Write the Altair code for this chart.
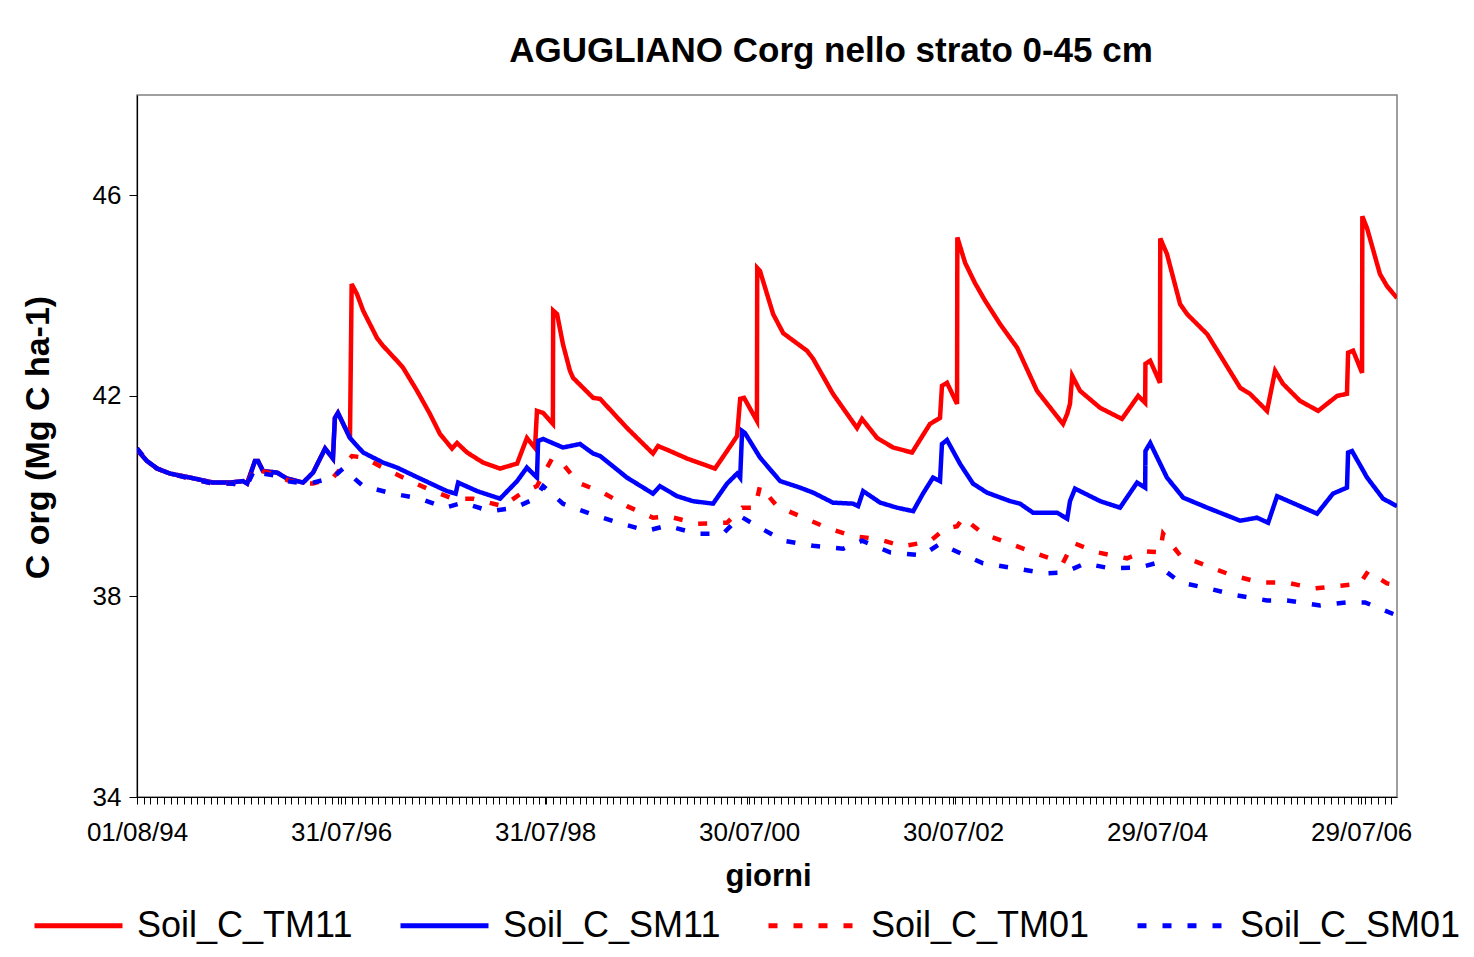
import altair as alt
import pandas as pd

# x values: giorni (days since 01/08/94); y values: C org (Mg C ha-1)
START = "1994-08-01"
END_DAY = 4508

names = ["Soil_C_TM11", "Soil_C_SM11", "Soil_C_TM01", "Soil_C_SM01"]

tm11_days = [0, 4, 36, 72, 118, 190, 272, 333, 379, 394, 422, 433, 451, 501, 537, 594, 630, 673, 701, 708,
             719, 762,
             768, 787, 809, 859, 880, 930, 952, 1002, 1048, 1084, 1127, 1145, 1181, 1238, 1299, 1360, 1395, 1424,
             1431, 1453, 1488, 1489, 1503, 1524, 1549, 1560, 1632, 1657, 1753, 1846, 1864, 1907, 1968, 2068,
             2111, 2147, 2158, 2172, 2218, 2219, 2229, 2276, 2312, 2397, 2419, 2490, 2576, 2594, 2648, 2705,
             2773, 2837, 2873, 2880, 2898, 2934, 2935, 2963, 2998, 3034, 3088, 3149, 3220, 3313, 3328, 3338,
             3346, 3374, 3446, 3524, 3582, 3607, 3608, 3625, 3660, 3661, 3685, 3732, 3757, 3829, 3947, 3982,
             4043, 4072, 4100, 4161, 4226, 4294, 4329, 4333, 4351, 4383, 4384, 4401, 4447, 4472, 4508]
tm11_vals = [40.95, 40.9, 40.7, 40.55, 40.45, 40.37, 40.27, 40.27, 40.3, 40.25, 40.7, 40.7, 40.5, 40.47, 40.35,
             40.27, 40.47, 40.95, 40.75, 41.56, 41.66, 41.16,
             44.23, 44.03, 43.7, 43.15, 43.0, 42.7, 42.56, 42.1, 41.64, 41.24, 40.95, 41.06, 40.87, 40.67, 40.55,
             40.65, 41.16, 40.96, 41.7, 41.66, 41.44, 43.7, 43.63, 43.03, 42.5, 42.36, 41.96, 41.94, 41.36,
             40.85, 41.0, 40.9, 40.75, 40.55, 40.9, 41.2, 41.94, 41.96, 41.5, 44.55, 44.49, 43.63, 43.25, 42.9,
             42.74, 42.04, 41.36, 41.54, 41.16, 40.97, 40.87, 41.44, 41.56, 42.2, 42.26, 41.84, 45.16, 44.65,
             44.25, 43.9, 43.43, 42.96, 42.1, 41.44, 41.64, 41.84, 42.4, 42.1, 41.76, 41.54, 42.0, 41.86, 42.64,
             42.7, 42.26, 45.14, 44.83, 43.83, 43.63, 43.23, 42.16, 42.04, 41.7, 42.5, 42.24, 41.9, 41.7, 42.0,
             42.04, 42.86, 42.9, 42.46, 45.58, 45.34, 44.43, 44.19, 43.95]

sm11_days = [0, 4, 36, 72, 118, 190, 272, 333, 379, 394, 422, 433, 451, 501, 537, 594, 630, 673, 701, 708,
             719, 762, 809, 880, 930, 1013, 1109, 1140, 1149, 1217, 1299, 1360, 1395, 1431, 1435, 1453, 1524,
             1585, 1632, 1657, 1753, 1846, 1871, 1932, 1989, 2061, 2111, 2147, 2158, 2165, 2175, 2229, 2301,
             2372, 2419, 2490, 2562, 2580, 2598, 2659, 2719, 2777, 2812, 2848, 2873, 2880, 2898, 2945, 2991,
             3041, 3124, 3159, 3206, 3292, 3328, 3338, 3356, 3446, 3517, 3578, 3607, 3608, 3625, 3685, 3743,
             3829, 3947, 4007, 4047, 4079, 4161, 4222, 4279, 4329, 4333, 4347, 4401, 4458, 4508]
sm11_vals = [40.95, 40.9, 40.7, 40.55, 40.45, 40.37, 40.27, 40.27, 40.3, 40.25, 40.7, 40.7, 40.5, 40.47, 40.35,
             40.27, 40.47, 40.95, 40.75, 41.56, 41.66, 41.16, 40.87, 40.67, 40.57, 40.35, 40.1, 40.05, 40.27,
             40.1, 39.95, 40.3, 40.57, 40.37, 41.1, 41.14, 40.97, 41.04, 40.85, 40.8, 40.37, 40.05, 40.2, 40.0,
             39.9, 39.85, 40.25, 40.45, 40.37, 41.3, 41.26, 40.77, 40.3, 40.17, 40.07, 39.87, 39.85, 39.8, 40.1,
             39.87, 39.77, 39.7, 40.05, 40.37, 40.3, 41.04, 41.12, 40.64, 40.25, 40.07, 39.9, 39.85, 39.67,
             39.67, 39.55, 39.9, 40.15, 39.9, 39.77, 40.27, 40.17, 40.9, 41.06, 40.37, 39.97, 39.77, 39.51,
             39.57, 39.47, 40.0, 39.8, 39.65, 40.05, 40.17, 40.87, 40.9, 40.37, 39.95, 39.8]

tm01_days = [0, 36, 72, 118, 190, 272, 333, 394, 422, 451, 501, 537, 594, 630, 701, 769, 809, 887, 977, 1059,
             1131, 1202, 1310, 1378, 1431, 1485, 1524, 1578, 1667, 1753, 1846, 1900, 2004, 2111, 2165, 2211,
             2229, 2290, 2372, 2469, 2562, 2648, 2741, 2837, 2891, 2934, 2956, 3027, 3124, 3220, 3313, 3349,
             3435, 3542, 3607, 3660, 3671, 3732, 3822, 3918, 4018, 4108, 4215, 4315, 4376, 4405, 4472, 4508]
tm01_vals = [40.95, 40.7, 40.55, 40.45, 40.35, 40.25, 40.25, 40.22, 40.6, 40.5, 40.42, 40.32, 40.25, 40.25,
             40.37, 40.8, 40.77, 40.55, 40.3, 40.1, 39.95, 39.95, 39.8, 40.07, 40.2, 40.75, 40.64, 40.27, 40.07,
             39.8, 39.57, 39.6, 39.45, 39.47, 39.77, 39.77, 40.2, 39.8, 39.6, 39.37, 39.2, 39.15, 39.0, 39.1,
             39.35, 39.4, 39.57, 39.25, 39.05, 38.85, 38.67, 39.07, 38.88, 38.76, 38.9, 38.88, 39.25, 38.82,
             38.62, 38.42, 38.28, 38.28, 38.16, 38.22, 38.26, 38.5, 38.26, 38.22]

sm01_days = [0, 36, 72, 118, 190, 272, 333, 394, 422, 451, 501, 537, 594, 630, 701, 737, 809, 916, 1013, 1102,
             1167, 1263, 1353, 1424, 1453, 1524, 1621, 1721, 1825, 1896, 2004, 2097, 2158, 2229, 2312, 2419,
             2526, 2594, 2694, 2809, 2873, 2938, 3027, 3142, 3249, 3320, 3392, 3481, 3589, 3643, 3732, 3832,
             3936, 4043, 4115, 4233, 4329, 4394, 4490, 4508]
sm01_vals = [40.95, 40.7, 40.55, 40.45, 40.35, 40.25, 40.25, 40.22, 40.55, 40.45, 40.4, 40.3, 40.25, 40.27,
             40.37, 40.55, 40.2, 40.05, 39.95, 39.77, 39.87, 39.7, 39.77, 39.95, 40.2, 39.85, 39.65, 39.47,
             39.31, 39.41, 39.25, 39.25, 39.6, 39.37, 39.11, 39.01, 38.95, 39.11, 38.88, 38.82, 39.05, 38.88,
             38.66, 38.56, 38.46, 38.48, 38.66, 38.56, 38.58, 38.66, 38.28, 38.16, 38.02, 37.92, 37.92, 37.82,
             37.88, 37.88, 37.66, 37.62]

major_labels = ["01/08/94", "31/07/96", "31/07/98", "30/07/00", "30/07/02", "29/07/04", "29/07/06"]
major_days = [0, 730, 1460, 2190, 2920, 3650, 4380]
minor_step = 24
y_ticks = [34, 38, 42, 46]

BASE_MS = pd.Timestamp(START, tz="UTC").value // 10**6


def to_ms(day):
    return BASE_MS + int(round(day * 86400000))


series = [(names[0], tm11_days, tm11_vals), (names[1], sm11_days, sm11_vals),
          (names[2], tm01_days, tm01_vals), (names[3], sm01_days, sm01_vals)]
rows = []
for k, (name, days, vals) in enumerate(series):
    assert len(days) == len(vals), name
    for i, (d, v) in enumerate(zip(days, vals)):
        rows.append({"serie": name, "k": k, "i": i, "t": to_ms(d), "v": v})
df = pd.DataFrame(rows)

tick_ms = sorted(set([to_ms(d) for d in range(0, END_DAY + 1, minor_step)] + [to_ms(d) for d in major_days]))
label_list = "[" + ",".join("'%s'" % s for s in major_labels) + "]"
label_expr = ("indexof(%s, utcFormat(datum.value, '%%d/%%m/%%y')) >= 0 ? utcFormat(datum.value, '%%d/%%m/%%y') : ''"
              % label_list)

FONT = "Liberation Sans"

x_scale = alt.Scale(type="utc", domain=[to_ms(0), to_ms(END_DAY)], nice=False)
y_scale = alt.Scale(domain=[34, 48], nice=False, zero=False)
color_scale = alt.Scale(domain=names, range=["#FF0000", "#0000FF", "#FF0000", "#0000FF"])
dash_scale = alt.Scale(domain=names, range=[[1, 0], [1, 0], [9, 16], [9, 16]])

legend = alt.Legend(title=None, orient="none", legendX=-105, legendY=784, direction="horizontal", columns=4,
                    symbolType="stroke", symbolSize=7744, symbolStrokeWidth=5, labelFontSize=36,
                    labelFont=FONT, labelColor="black", labelOffset=12, columnPadding=37, labelLimit=0)

x_axis = alt.Axis(values=tick_ms, labelExpr=label_expr, labelOverlap=False, labelFlush=False,
                  labelFont=FONT, labelFontSize=26, labelColor="black", labelPadding=15,
                  tickSize=7, tickColor="black", tickWidth=1, domainColor="black", domainWidth=1.2,
                  grid=False, title="giorni", titleFont=FONT, titleFontSize=31, titleFontWeight="bold",
                  titleColor="black", titleX=631, titleY=79, titleBaseline="middle", titleAlign="center")

y_axis = alt.Axis(values=y_ticks, labelFont=FONT, labelFontSize=26, labelColor="black", labelPadding=8,
                  tickSize=8, tickColor="black", domainColor="black", domainWidth=1.2, grid=False,
                  title="C org (Mg C ha-1)", titleFont=FONT, titleFontSize=34, titleFontWeight="bold",
                  titleColor="black", titleX=-99, titleY=342, titleAngle=-90, titleBaseline="middle",
                  titleAlign="center")

chart = alt.Chart(df).mark_line(strokeWidth=4.5, clip=True).encode(
    x=alt.X("t:T", scale=x_scale, axis=x_axis),
    y=alt.Y("v:Q", scale=y_scale, axis=y_axis),
    color=alt.Color("serie:N", scale=color_scale, legend=legend),
    strokeDash=alt.StrokeDash("serie:N", scale=dash_scale, legend=legend),
    detail="k:O",
    order="i:Q",
).properties(
    width=1260,
    height=702,
    title=alt.TitleParams(text="AGUGLIANO Corg nello strato 0-45 cm", font=FONT, fontSize=35,
                          fontWeight="bold", color="black", anchor="middle", frame="group", dx=64, offset=26),
    autosize=alt.AutoSizeParams(type="none"),
    padding={"left": 129, "top": 87, "right": 69, "bottom": 150},
    background="white",
).configure_view(stroke="#808080", strokeWidth=1.5)

chart.save("out.html", embed_options={"renderer": "svg", "actions": False})
